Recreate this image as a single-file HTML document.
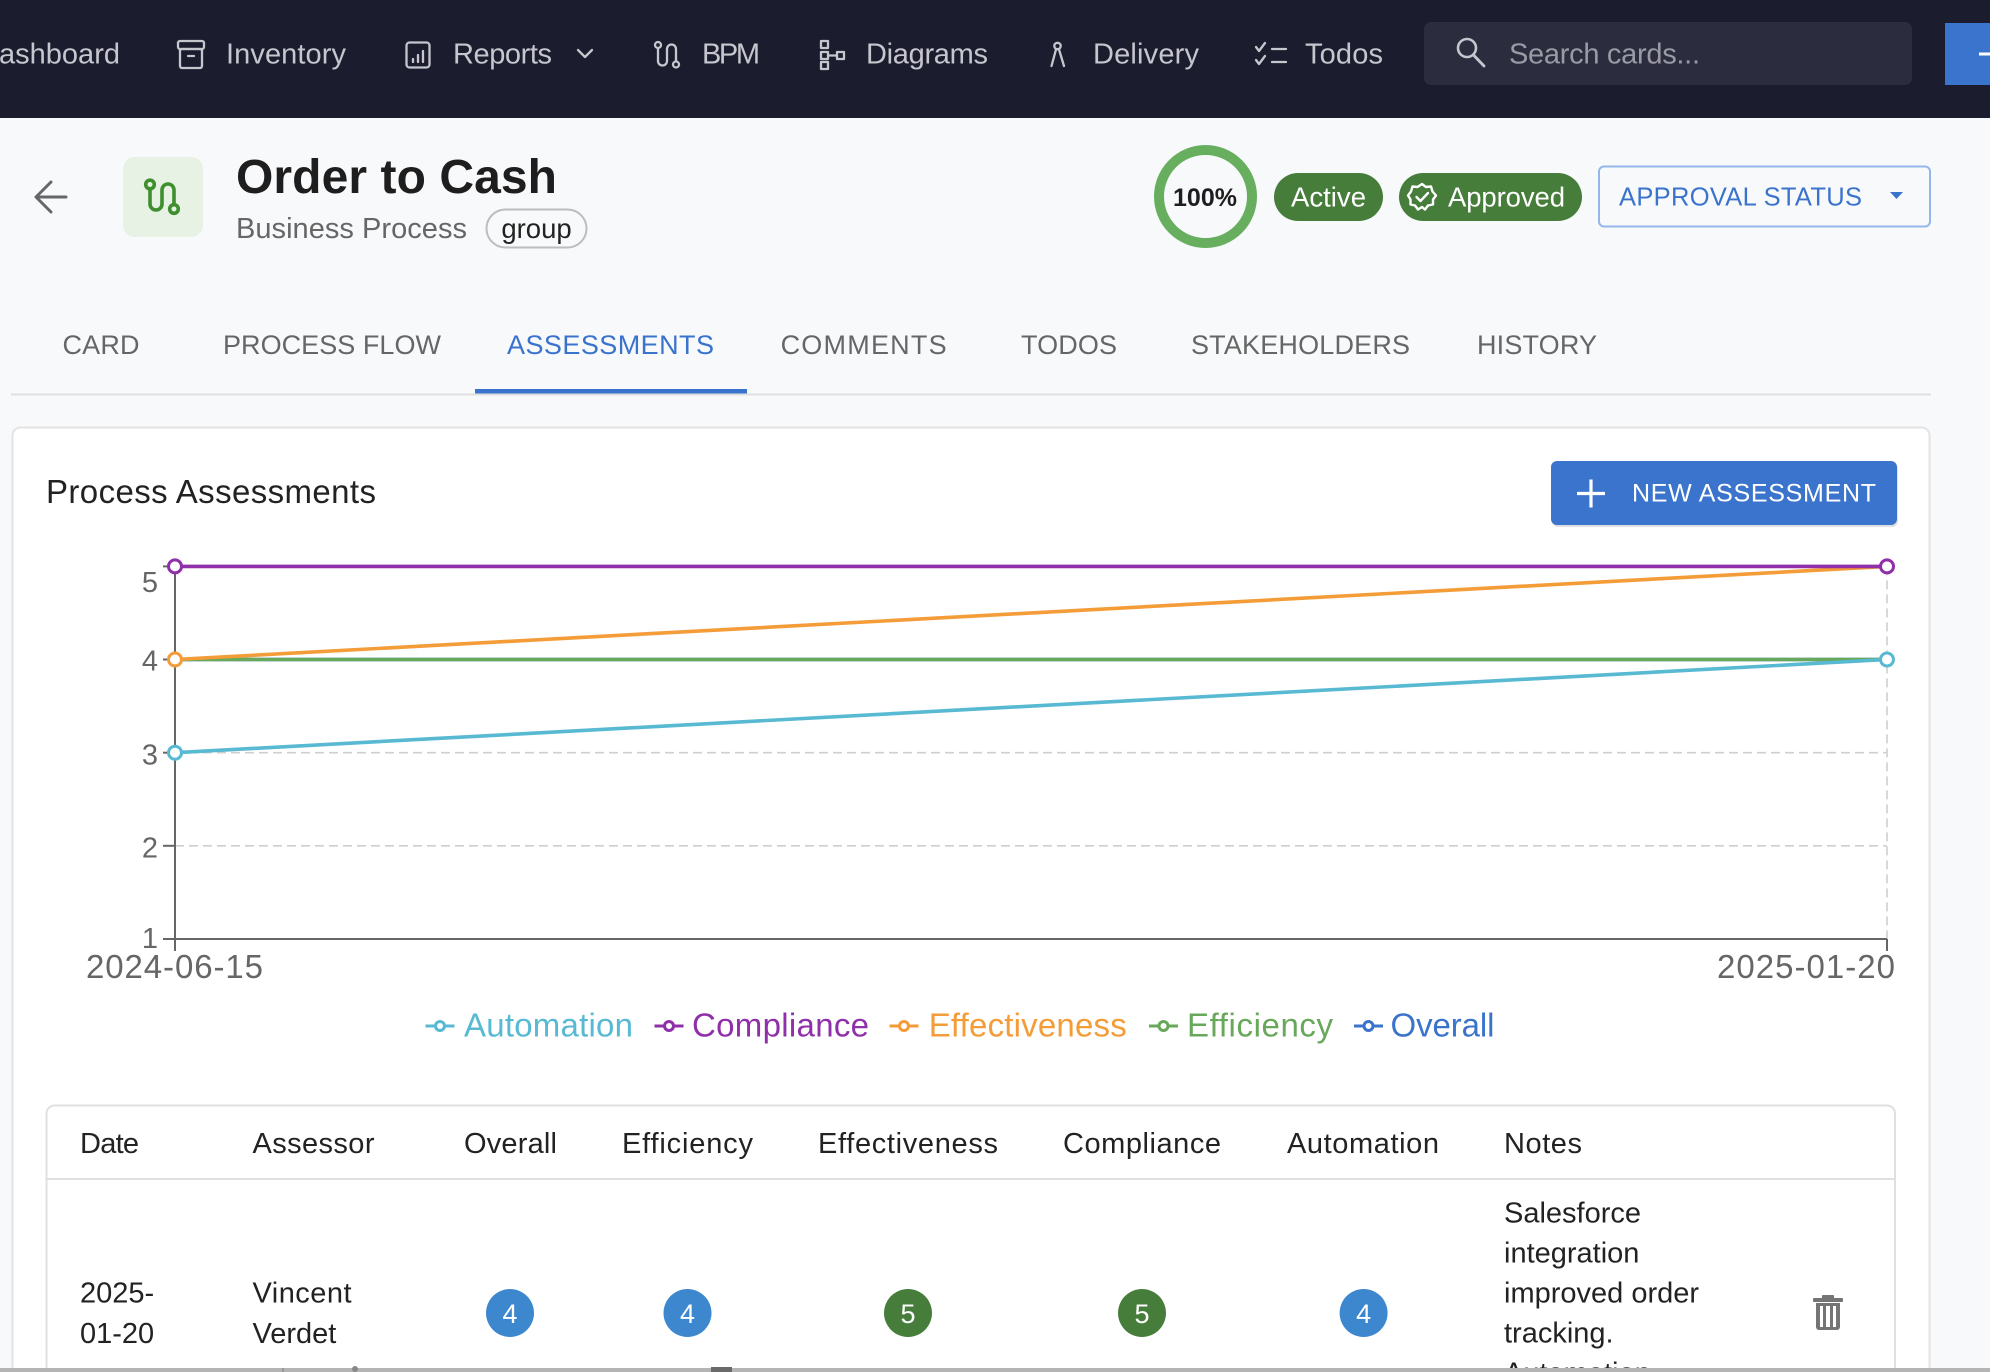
<!DOCTYPE html>
<html>
<head>
<meta charset="utf-8">
<style>
html,body{margin:0;padding:0;width:1990px;height:1372px;overflow:hidden;background:#f8f9fb;}
svg{display:block;font-family:"Liberation Sans",Arial,sans-serif;}
</style>
</head>
<body>
<svg width="1990" height="1372" viewBox="0 0 1990 1372" xmlns="http://www.w3.org/2000/svg">
  <defs>
    <clipPath id="pageclip"><rect x="0" y="0" width="1990" height="1372"/></clipPath>
  </defs>
  <rect x="0" y="0" width="1990" height="1372" fill="#f8f9fb"/>

  <!-- NAV BAR -->
  <rect x="0" y="0" width="1990" height="118" fill="#1b1c2e"/>
  <g font-size="29" fill="#c6c6ce">
    <text x="-1" y="63.5" textLength="121">ashboard</text>
    <text x="226" y="63.5" textLength="120">Inventory</text>
    <text x="453" y="63.5" textLength="99">Reports</text>
    <text x="702" y="63.5" textLength="58">BPM</text>
    <text x="866" y="63.5" textLength="122">Diagrams</text>
    <text x="1093" y="63.5" textLength="106">Delivery</text>
    <text x="1305" y="63.5" textLength="78">Todos</text>
  </g>
  <g stroke="#c6c6ce" stroke-width="2.3" fill="none" stroke-linecap="round" stroke-linejoin="round">
    <rect x="178" y="41" width="26" height="8" rx="2"/>
    <rect x="180" y="49" width="22" height="19" rx="2"/>
    <line x1="188" y1="56" x2="194" y2="56"/>
    <rect x="406.5" y="42.5" width="23" height="25" rx="3"/>
    <line x1="413" y1="59" x2="413" y2="62"/>
    <line x1="418" y1="55" x2="418" y2="62"/>
    <line x1="423" y1="51" x2="423" y2="62"/>
    <polyline points="578,50 585,57 592,50"/>
    <circle cx="658" cy="45" r="3"/>
    <path d="M658 48 V61 a4.5 4.5 0 0 0 9 0 V49 a4.5 4.5 0 0 1 9 0 V61"/>
    <circle cx="676" cy="64.5" r="3"/>
    <rect x="821" y="41" width="7" height="7"/>
    <rect x="821" y="52" width="7" height="7"/>
    <rect x="837" y="52" width="7" height="7"/>
    <rect x="821" y="62" width="7" height="7"/>
    <line x1="828" y1="55.5" x2="837" y2="55.5"/>
    <circle cx="1057.5" cy="46" r="3.2"/>
    <line x1="1056" y1="49.5" x2="1051.5" y2="66"/>
    <line x1="1059" y1="49.5" x2="1064" y2="66"/>
    <polyline points="1256,47 1259,51 1265,43"/>
    <polyline points="1256,60 1259,64 1265,56"/>
    <line x1="1272" y1="49" x2="1286" y2="49"/>
    <line x1="1272" y1="62" x2="1286" y2="62"/>
  </g>
  <rect x="1424" y="22" width="488" height="63" rx="7" fill="#2b2c3e"/>
  <circle cx="1467" cy="48" r="9" stroke="#c6c6ce" stroke-width="2.6" fill="none"/>
  <line x1="1473.5" y1="55" x2="1484" y2="66" stroke="#c6c6ce" stroke-width="2.8" stroke-linecap="round"/>
  <text x="1509" y="63.5" font-size="29" fill="#9a9aa5" textLength="191">Search cards...</text>
  <rect x="1945" y="23" width="45" height="62" fill="#3a74cc"/>
  <line x1="1979" y1="54" x2="1990" y2="54" stroke="#fff" stroke-width="3"/>

  <!-- HEADER -->
  <g stroke="#666" stroke-width="3" fill="none" stroke-linecap="round" stroke-linejoin="round">
    <path d="M66 197 H37 M51 182 L36 197 L51 212"/>
  </g>
  <rect x="123" y="157" width="80" height="80" rx="12" fill="#e7f1e4"/>
  <g stroke="#3f8f2f" stroke-width="3.6" fill="none" stroke-linecap="round">
    <circle cx="150" cy="184.5" r="4.3"/>
    <path d="M150 189 V204 a6 6 0 0 0 12 0 V190 a6 6 0 0 1 12 0 V204"/>
    <circle cx="174" cy="209" r="4.3"/>
  </g>
  <text x="236" y="193" font-size="48" font-weight="bold" fill="#1e1e1e" textLength="321">Order to Cash</text>
  <text x="236" y="238" font-size="29" fill="#666" textLength="231">Business Process</text>
  <rect x="486.5" y="209.5" width="100" height="38" rx="19" fill="none" stroke="#bdbdbd" stroke-width="2"/>
  <text x="536.5" y="238" font-size="27.5" fill="#222" text-anchor="middle">group</text>

  <circle cx="1205.5" cy="196.5" r="46.5" fill="none" stroke="#67ae5f" stroke-width="10"/>
  <text x="1205" y="206" font-size="25" font-weight="bold" fill="#1e1e1e" text-anchor="middle">100%</text>
  <rect x="1274" y="173" width="109" height="48" rx="24" fill="#467d3b"/>
  <text x="1291" y="206.5" font-size="27.5" fill="#fff" textLength="75">Active</text>
  <rect x="1399" y="173" width="183" height="48" rx="24" fill="#467d3b"/>
  <g stroke="#fff" stroke-width="2.4" fill="none" stroke-linejoin="round" stroke-linecap="round">
    <path d="M1422 184 L1426 187 L1431 186.5 L1432.5 191.5 L1436 195.5 L1433 199.5 L1433 204.5 L1428 205.5 L1425 209.5 L1422 207 L1418 209.5 L1415 205.5 L1410.5 204.5 L1410.5 199.5 L1408 195.5 L1411 191.5 L1412.5 186.5 L1417.5 187 Z"/>
    <polyline points="1416.5,197 1420.5,201 1428,193"/>
  </g>
  <text x="1448" y="206.5" font-size="27.5" fill="#fff" textLength="117">Approved</text>
  <rect x="1599" y="166.5" width="331" height="60" rx="5" fill="none" stroke="#94b6ea" stroke-width="2"/>
  <text x="1619" y="205.7" font-size="25.5" fill="#3a73cc" textLength="243">APPROVAL STATUS</text>
  <polygon points="1890,192 1903,192 1896.5,199" fill="#3a73cc"/>

  <!-- TABS -->
  <g font-size="27" fill="#666">
    <text x="62.5" y="354" textLength="77">CARD</text>
    <text x="223" y="354" textLength="218">PROCESS FLOW</text>
    <text x="507" y="354" textLength="207" fill="#3a73cc">ASSESSMENTS</text>
    <text x="780.6" y="354" textLength="166">COMMENTS</text>
    <text x="1021" y="354" textLength="96">TODOS</text>
    <text x="1191" y="354" textLength="219">STAKEHOLDERS</text>
    <text x="1477" y="354" textLength="120">HISTORY</text>
  </g>
  <line x1="11" y1="394.5" x2="1931" y2="394.5" stroke="#e0e0e0" stroke-width="2"/>
  <rect x="475" y="389" width="272" height="4.5" fill="#3a73cc"/>

  <!-- CARD -->
  <path d="M12.5 1369 V435.5 a8 8 0 0 1 8 -8 H1921.5 a8 8 0 0 1 8 8 V1369" fill="#fff" stroke="#e3e3e3" stroke-width="2"/>
  <text x="46" y="503" font-size="33" fill="#222" textLength="330">Process Assessments</text>

  <rect x="1552" y="463" width="346" height="64" rx="6" fill="#000" opacity="0.12"/>
  <rect x="1551" y="461" width="346" height="64" rx="6" fill="#3b74cc"/>
  <g stroke="#fff" stroke-width="3.2">
    <line x1="1577" y1="493.5" x2="1605" y2="493.5"/>
    <line x1="1591" y1="479.5" x2="1591" y2="507.5"/>
  </g>
  <text x="1632" y="501.5" font-size="25" fill="#fff" textLength="244">NEW ASSESSMENT</text>

  <!-- CHART grid -->
  <g stroke="#cfcfcf" stroke-width="1.6" stroke-dasharray="9 5" fill="none">
    <line x1="175" y1="566.4" x2="1887" y2="566.4"/>
    <line x1="175" y1="659.5" x2="1887" y2="659.5"/>
    <line x1="175" y1="752.7" x2="1887" y2="752.7"/>
    <line x1="175" y1="845.8" x2="1887" y2="845.8"/>
    <line x1="1887" y1="566.4" x2="1887" y2="939"/>
  </g>
  <g stroke="#666" stroke-width="2" fill="none">
    <line x1="175" y1="566" x2="175" y2="939"/>
    <line x1="175" y1="939" x2="1887" y2="939"/>
    <line x1="163" y1="566.4" x2="175" y2="566.4"/>
    <line x1="163" y1="659.5" x2="175" y2="659.5"/>
    <line x1="163" y1="752.7" x2="175" y2="752.7"/>
    <line x1="163" y1="845.8" x2="175" y2="845.8"/>
    <line x1="163" y1="939" x2="175" y2="939"/>
    <line x1="175" y1="939" x2="175" y2="951"/>
    <line x1="1887" y1="939" x2="1887" y2="951"/>
  </g>
  <g font-size="29" fill="#666" text-anchor="end">
    <text x="158" y="592">5</text>
    <text x="158" y="670.7">4</text>
    <text x="158" y="764.4">3</text>
    <text x="158" y="857.4">2</text>
    <text x="158" y="948">1</text>
  </g>
  <text x="86" y="978" font-size="33" fill="#666" textLength="177">2024-06-15</text>
  <text x="1717" y="978" font-size="33" fill="#666" textLength="178">2025-01-20</text>

  <g fill="none" stroke-width="3.6" stroke-linecap="round">
    <line x1="175" y1="659.5" x2="1887" y2="659.5" stroke="#3a73cc"/>
    <line x1="175" y1="659.5" x2="1887" y2="659.5" stroke="#67a85a"/>
    <line x1="175" y1="752.7" x2="1887" y2="659.5" stroke="#58b9d3"/>
    <line x1="175" y1="659.5" x2="1887" y2="566.4" stroke="#f39c38"/>
    <line x1="175" y1="566.4" x2="1887" y2="566.4" stroke="#8f2faa"/>
  </g>
  <g fill="#fff" stroke-width="3">
    <circle cx="175" cy="752.7" r="6.5" stroke="#58b9d3"/>
    <circle cx="1887" cy="659.5" r="6.5" stroke="#58b9d3"/>
    <circle cx="175" cy="659.5" r="6.5" stroke="#f39c38"/>
    <circle cx="175" cy="566.4" r="6.5" stroke="#8f2faa"/>
    <circle cx="1887" cy="566.4" r="6.5" stroke="#8f2faa"/>
  </g>

  <!-- legend -->
  <g stroke-width="3" fill="#fff">
    <line x1="425.5" y1="1026" x2="454.5" y2="1026" stroke="#58b9d3"/>
    <circle cx="440" cy="1026" r="4.5" stroke="#58b9d3"/>
    <line x1="654.5" y1="1026" x2="683.5" y2="1026" stroke="#8f2faa"/>
    <circle cx="669" cy="1026" r="4.5" stroke="#8f2faa"/>
    <line x1="889.5" y1="1026" x2="918.5" y2="1026" stroke="#f39c38"/>
    <circle cx="904" cy="1026" r="4.5" stroke="#f39c38"/>
    <line x1="1149" y1="1026" x2="1178" y2="1026" stroke="#67a85a"/>
    <circle cx="1163.5" cy="1026" r="4.5" stroke="#67a85a"/>
    <line x1="1354" y1="1026" x2="1383" y2="1026" stroke="#3a73cc"/>
    <circle cx="1368.5" cy="1026" r="4.5" stroke="#3a73cc"/>
  </g>
  <g font-size="33">
    <text x="464" y="1036.7" fill="#58b9d3" textLength="169">Automation</text>
    <text x="692" y="1036.7" fill="#8f2faa" textLength="177">Compliance</text>
    <text x="928.7" y="1036.7" fill="#f39c38" textLength="198">Effectiveness</text>
    <text x="1187" y="1036.7" fill="#67a85a" textLength="146">Efficiency</text>
    <text x="1390.5" y="1036.7" fill="#3a73cc" textLength="104">Overall</text>
  </g>

  <!-- TABLE -->
  <path d="M46.5 1369 V1113.5 a8 8 0 0 1 8 -8 H1887 a8 8 0 0 1 8 8 V1369" fill="#fff" stroke="#e0e0e0" stroke-width="2"/>
  <line x1="46.5" y1="1179" x2="1895" y2="1179" stroke="#e0e0e0" stroke-width="2"/>
  <g font-size="29" fill="#222">
    <text x="80" y="1153" textLength="59">Date</text>
    <text x="252.5" y="1153" textLength="122">Assessor</text>
    <text x="464" y="1153" textLength="93">Overall</text>
    <text x="622" y="1153" textLength="131">Efficiency</text>
    <text x="818" y="1153" textLength="180">Effectiveness</text>
    <text x="1063" y="1153" textLength="158">Compliance</text>
    <text x="1287" y="1153" textLength="152">Automation</text>
    <text x="1504" y="1153" textLength="78">Notes</text>

    <text x="80" y="1302.7">2025-</text>
    <text x="80" y="1343">01-20</text>
    <text x="252.5" y="1302.7" textLength="99">Vincent</text>
    <text x="252.5" y="1343">Verdet</text>

    <text x="1504" y="1222.7">Salesforce</text>
    <text x="1504" y="1262.7">integration</text>
    <text x="1504" y="1302.7">improved order</text>
    <text x="1504" y="1342.7">tracking.</text>
  </g>
  <svg x="1500" y="1346" width="200" height="22" overflow="hidden">
    <text x="4" y="36.7" font-size="29" fill="#222">Automation</text>
  </svg>
  <circle cx="510" cy="1313" r="24" fill="#3d87cf"/>
  <circle cx="687.5" cy="1313" r="24" fill="#3d87cf"/>
  <circle cx="908" cy="1313" r="24" fill="#467d3b"/>
  <circle cx="1142" cy="1313" r="24" fill="#467d3b"/>
  <circle cx="1363.6" cy="1313" r="24" fill="#3d87cf"/>
  <g font-size="27" fill="#fff" text-anchor="middle">
    <text x="510" y="1323">4</text>
    <text x="687.5" y="1323">4</text>
    <text x="908" y="1323">5</text>
    <text x="1142" y="1323">5</text>
    <text x="1363.6" y="1323">4</text>
  </g>
  <g fill="#757575">
    <rect x="1822" y="1295" width="12" height="4" rx="1"/>
    <rect x="1813" y="1298" width="30" height="4" rx="1"/>
    <path d="M1816 1303 H1840 V1327 a3 3 0 0 1 -3 3 H1819 a3 3 0 0 1 -3 -3 Z"/>
  </g>
  <rect x="1820" y="1306" width="16" height="21" fill="#fff"/>
  <g fill="#757575">
    <rect x="1823" y="1306" width="3" height="21"/>
    <rect x="1830" y="1306" width="3" height="21"/>
  </g>

  <!-- bottom strip -->
  <rect x="0" y="1368" width="1990" height="4" fill="#b4b4b4"/>
  <rect x="282" y="1368" width="2" height="4" fill="#999"/>
  <rect x="352" y="1366" width="6" height="6" rx="3" fill="#888"/>
  <rect x="711" y="1367" width="21" height="5" fill="#6a6a6a"/>
</svg>
</body>
</html>
